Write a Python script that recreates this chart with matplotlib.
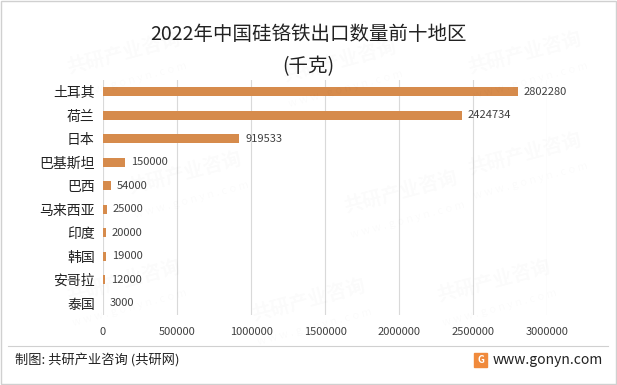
import matplotlib
matplotlib.use("Agg")
import matplotlib.pyplot as plt
from matplotlib.patches import Rectangle
from matplotlib.lines import Line2D

plt.rcParams['font.family'] = ['Noto Sans CJK SC', 'DejaVu Sans']

regions = ["土耳其", "荷兰", "日本", "巴基斯坦", "巴西", "马来西亚", "印度", "韩国", "安哥拉", "泰国"]
values = [2802280, 2424734, 919533, 150000, 54000, 25000, 20000, 19000, 12000, 3000]
xticks = [0, 500000, 1000000, 1500000, 2000000, 2500000, 3000000]

bar_color = "#D68B4C"

fig = plt.figure(figsize=(6.17, 3.85), dpi=100)
ax = fig.add_axes([0.167, 0.182, 0.7196, 0.61])

y = list(range(len(regions)))
ax.barh(y, values, height=0.38, color=bar_color, zorder=3)
for yi, v in zip(y, values):
    ax.text(v + 40000, yi, str(v), va="center", ha="left", fontsize=8, color="#404040", zorder=4)

ax.set_yticks(y)
ax.set_yticklabels(regions, fontsize=10, color="#222222")
ax.set_ylim(len(regions) - 0.5, -0.5)
ax.set_xlim(0, 3000000)
ax.set_xticks(xticks)
ax.set_xticklabels([str(t) for t in xticks], fontsize=8, color="#404040")
ax.grid(axis="x", color="#d9d9d9", linewidth=0.8, zorder=0)
ax.tick_params(axis="y", length=0, pad=6)
ax.tick_params(axis="x", length=0, pad=9)
for s in ax.spines.values():
    s.set_visible(False)

# title
fig.text(0.5, 1 - 35 / 385, "2022年中国硅铬铁出口数量前十地区", ha="center", va="center", fontsize=14, color="#222222")
fig.text(0.5, 1 - 67 / 385, "(千克)", ha="center", va="center", fontsize=14, color="#222222")

# faint watermarks
for wx, wy in [(0.2, 0.86), (0.55, 0.84), (0.85, 0.86), (0.3, 0.55), (0.65, 0.5),
               (0.85, 0.6), (0.2, 0.27), (0.5, 0.22), (0.8, 0.27)]:
    fig.text(wx, wy, "共研产业咨询", fontsize=14, fontweight="bold", color="#000000", alpha=0.02,
             rotation=15, ha="center", va="center")
    fig.text(wx + 0.01, wy - 0.07, "w w w . g o n y n . c o m", fontsize=8, color="#000000", alpha=0.02,
             rotation=15, ha="center", va="center")

# footer
fig.add_artist(Line2D([8 / 617, 608 / 617], [1 - 346 / 385] * 2, color="#d0d0d0", linewidth=0.8))
fig.text(15 / 617, 1 - 361 / 385, "制图: 共研产业咨询 (共研网)", ha="left", va="center", fontsize=9.5, color="#222222")
fig.text(603 / 617, 1 - 360 / 385, "www.gonyn.com", ha="right", va="center", fontsize=10, color="#222222")
fig.add_artist(Rectangle((474 / 617, 1 - 367 / 385), 13 / 617, 14 / 385, color="#F08A3C"))
fig.text(480.5 / 617, 1 - 360 / 385, "G", ha="center", va="center", fontsize=7, fontweight="bold", color="white")

# outer border
fig.add_artist(Rectangle((0.002, 0.003), 0.996, 0.994, fill=False, edgecolor="#d0d0d0", linewidth=1))

fig.savefig("out.png", dpi=100)
